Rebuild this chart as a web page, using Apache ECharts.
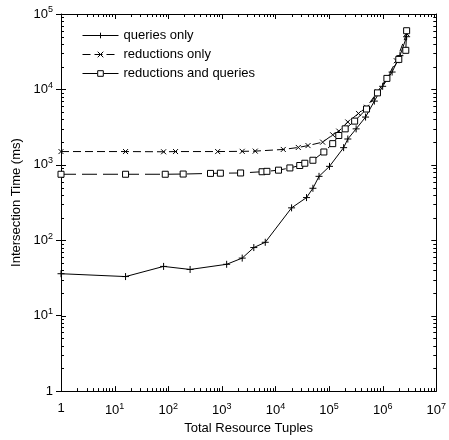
<!DOCTYPE html>
<html>
<head>
<meta charset="utf-8">
<script src="https://cdn.jsdelivr.net/npm/echarts@6/dist/echarts.min.js"></script>
<style>
html, body { margin: 0; padding: 0; background: #fff; }
#chart { width: 449px; height: 440px; }
</style>
</head>
<body>
<div id="chart"></div>
<script>
// queries only
var queriesX = [1, 16, 82, 256, 1230, 2400, 3950, 6460, 20000, 38000, 50000, 65000, 102000, 187000, 224000, 320000, 480000, 700000, 1000000, 1500000, 2100000, 2800000];
var queriesY = [36, 33, 45, 41, 48, 58, 80, 94, 269, 368, 489, 704, 955, 1690, 2200, 3000, 4300, 7000, 11000, 17000, 28000, 50000];
// reductions only
var reductionsX = [1, 16, 82, 137, 836, 2400, 4200, 14000, 26700, 40500, 76000, 117000, 152000, 224000, 355000, 500000, 800000, 1200000, 1800000, 2800000];
var reductionsY = [1500, 1500, 1490, 1500, 1500, 1510, 1520, 1600, 1700, 1800, 2000, 2500, 2800, 3700, 4800, 5800, 9300, 14000, 24000, 55000];
// reductions and queries
var bothX = [1, 16, 88, 190, 615, 940, 2240, 5630, 6930, 11400, 18600, 28400, 35300, 50000, 80000, 117000, 152000, 200000, 300000, 500000, 800000, 1200000, 2000000, 2700000, 2800000];
var bothY = [750, 750, 750, 755, 770, 775, 780, 810, 820, 850, 910, 980, 1050, 1150, 1480, 1910, 2450, 3000, 3800, 5500, 9000, 14000, 25000, 33000, 60000];

var seriesNames = ['queries only', 'reductions only', 'reductions and queries'];
var xDecades = [1, 10, 100, 1000, 10000, 100000, 1000000, 10000000];
var yDecades = [1, 10, 100, 1000, 10000, 100000];

var X_MIN = 1, X_MAX = 10000000, Y_MIN = 1, Y_MAX = 100000;
var FONT = '"Liberation Sans", Arial, sans-serif';

function pairs(xs, ys) {
	var out = [];
	for (var i = 0; i < xs.length; i++) out.push([xs[i], ys[i]]);
	return out;
}

// tick marks drawn inside the box: [x, y, which(0 = x ticks, 1 = y ticks), length]
var tickData = [];
xDecades.forEach(function (d, i) {
	tickData.push([d, 1, 0, 5]);
	if (i < xDecades.length - 1) {
		for (var m = 2; m <= 9; m++) tickData.push([m * d, 1, 0, 3]);
	}
});
yDecades.forEach(function (d, i) {
	tickData.push([1, d, 1, 5]);
	if (i < yDecades.length - 1) {
		for (var m = 2; m <= 9; m++) tickData.push([1, m * d, 1, 3]);
	}
});

function powLabel(v) {
	var e = Math.round(Math.log(v) / Math.LN10);
	if (e === 0) return '1';
	return '10{sup|' + e + '}';
}

var labelRich = { sup: { fontSize: 9, fontFamily: FONT, color: '#000', padding: [0, 0, 8, 0] } };

var chart = echarts.init(document.getElementById('chart'));
chart.setOption({
	animation: false,
	backgroundColor: '#fff',
	textStyle: { fontFamily: FONT, color: '#000' },
	grid: { left: 61, right: 7, top: 14, bottom: 47 },
	legend: {
		data: seriesNames,
		orient: 'vertical',
		left: 77,
		top: 24,
		itemWidth: 36,
		itemHeight: 7,
		itemGap: 6,
		itemTextGap: 10,
		lineStyle: { width: 1 },
		itemStyle: { borderWidth: 1 },
		textStyle: { fontSize: 13, fontFamily: FONT, color: '#000' }
	},
	xAxis: [{
		type: 'log', logBase: 10, min: X_MIN, max: X_MAX,
		name: 'Total Resource Tuples', nameLocation: 'middle', nameGap: 27,
		nameTextStyle: { fontSize: 13, fontFamily: FONT, color: '#000' },
		axisLine: { show: true, lineStyle: { color: '#000', width: 1 } },
		axisTick: { show: false },
		splitLine: { show: false },
		axisLabel: { fontSize: 13, color: '#000', margin: 11, formatter: powLabel, rich: labelRich }
	}, {
		type: 'log', logBase: 10, min: X_MIN, max: X_MAX, position: 'top',
		axisLine: { show: true, lineStyle: { color: '#000', width: 1 } },
		axisTick: { show: false }, axisLabel: { show: false }, splitLine: { show: false }
	}],
	yAxis: [{
		type: 'log', logBase: 10, min: Y_MIN, max: Y_MAX,
		name: 'Intersection Time (ms)', nameLocation: 'middle', nameGap: 35,
		nameTextStyle: { fontSize: 13, fontFamily: FONT, color: '#000' },
		axisLine: { show: true, lineStyle: { color: '#000', width: 1 } },
		axisTick: { show: true, inside: false, length: 5, lineStyle: { color: '#000' } },
		splitLine: { show: false },
		axisLabel: { fontSize: 13, color: '#000', margin: 8, formatter: powLabel, rich: labelRich }
	}, {
		type: 'log', logBase: 10, min: Y_MIN, max: Y_MAX, position: 'right',
		axisLine: { show: true, lineStyle: { color: '#000', width: 1 } },
		axisTick: { show: false }, axisLabel: { show: false }, splitLine: { show: false }
	}],
	series: [{
		name: 'queries only',
		type: 'line',
		data: pairs(queriesX, queriesY),
		symbol: 'path://M0,5 L10,5 M5,0 L5,10',
		symbolSize: 7,
		lineStyle: { color: '#000', width: 1, type: 'solid' },
		itemStyle: { color: 'none', borderColor: '#000', borderWidth: 1 },
		z: 3
	}, {
		name: 'reductions only',
		type: 'line',
		data: pairs(reductionsX, reductionsY),
		symbol: 'path://M0,0 L10,10 M10,0 L0,10',
		symbolSize: 5,
		lineStyle: { color: '#000', width: 1, type: [8, 4] },
		itemStyle: { color: 'none', borderColor: '#000', borderWidth: 1 },
		z: 3
	}, {
		name: 'reductions and queries',
		type: 'line',
		data: pairs(bothX, bothY),
		symbol: 'rect',
		symbolSize: 6,
		lineStyle: { color: '#000', width: 1, type: [15, 6] },
		itemStyle: { color: '#fff', borderColor: '#000', borderWidth: 1 },
		z: 3
	}, {
		type: 'custom',
		silent: true,
		data: tickData,
		z: 1,
		renderItem: function (params, api) {
			var v = api.value(0), w = api.value(1), which = api.value(2), len = api.value(3);
			var style = { stroke: '#000', lineWidth: 1 };
			if (which === 0) {
				var b = api.coord([v, Y_MIN]), t = api.coord([v, Y_MAX]);
				var x = Math.round(b[0]) + 0.5;
				return { type: 'group', children: [
					{ type: 'line', shape: { x1: x, y1: b[1], x2: x, y2: b[1] - len }, style: style },
					{ type: 'line', shape: { x1: x, y1: t[1], x2: x, y2: t[1] + len }, style: style }
				] };
			}
			var l = api.coord([X_MIN, w]), r = api.coord([X_MAX, w]);
			var y = Math.round(l[1]) + 0.5;
			return { type: 'group', children: [
				{ type: 'line', shape: { x1: l[0], y1: y, x2: l[0] + len, y2: y }, style: style },
				{ type: 'line', shape: { x1: r[0], y1: y, x2: r[0] - len, y2: y }, style: style }
			] };
		}
	}]
});
</script>
</body>
</html>
